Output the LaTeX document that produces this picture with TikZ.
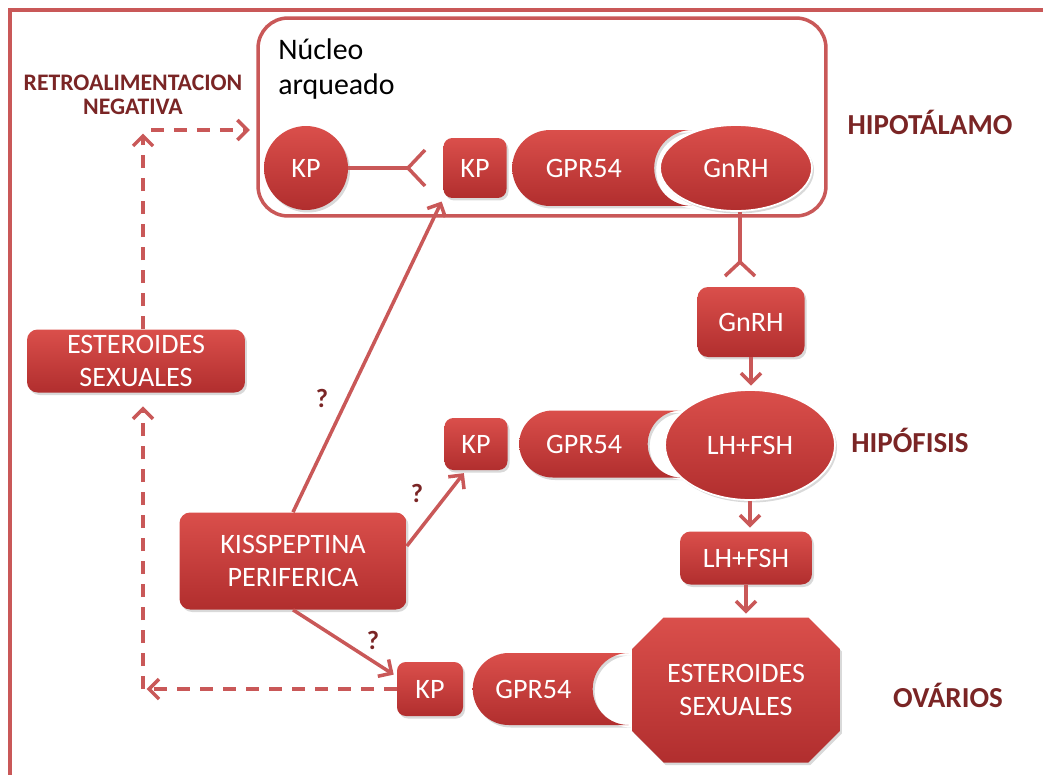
\documentclass[tikz,border=0pt]{standalone}
\usepackage{fontspec}
\setmainfont{Carlito}
\usepackage{xcolor}
\usetikzlibrary{arrows.meta,positioning,shapes.geometric,shapes.misc,shadows}
\definecolor{boxtop}{HTML}{DA4F4B}
\definecolor{boxbot}{HTML}{B12E2E}
\definecolor{linered}{HTML}{C95858}
\definecolor{labred}{HTML}{7A2525}

\begin{document}
\begin{tikzpicture}[
        x=0.02cm, y=-0.02cm,
        node distance=0.1cm,
        base/.style={top color=boxtop, bottom color=boxbot, text=white, inner sep=0pt, align=center,
            font=\fontsize{16}{19}\selectfont,
            drop shadow={opacity=0.3, shadow xshift=0.04cm, shadow yshift=-0.05cm}},
        kpbox/.style={base, rectangle, rounded corners=5pt, minimum width=1.26cm, minimum height=1.2cm},
        gpr/.style={base, rounded rectangle, rounded rectangle right arc=concave,
            rounded rectangle arc length=180},
        hormone/.style={base, ellipse, draw=white, line width=1pt},
        rbox/.style={base, rectangle, rounded corners=6pt},
        organ/.style={font=\fontsize{16.5}{19}\selectfont\bfseries, text=labred},
        qmark/.style={font=\fontsize{15}{18}\selectfont\bfseries, text=labred},
        conn/.style={draw=linered, line width=2pt},
        arr/.style={conn, -{Straight Barb[length=2mm,width=4mm]}, shorten >=2pt},
        darr/.style={arr, dash pattern=on 0.26cm off 0.2cm}
    ]
    \useasboundingbox (0,0) rectangle (1043,774);
    \clip (0,0) rectangle (1043,774);
    % marco
    \draw[draw=linered, line width=2pt] (10,790) -- (10,10) -- (1060,10);

    % hipotalamo
    \node[draw=linered, line width=2pt, rounded corners=0.6cm, minimum width=11.36cm, minimum height=3.96cm] (nucleo) at (542,117) {};
    \node[anchor=north west, align=left, inner sep=0pt, font=\fontsize{17}{20}\selectfont] (nucleolab) at (278,38) {Núcleo\\arqueado};
    \node[base, circle, minimum size=1.68cm] (kpc) at (306,168) {KP};
    \node[kpbox] (kp1) at (475,168) {KP};
    \node[gpr, minimum width=3.6cm, minimum height=1.52cm, right=0.1cm of kp1] (gpr1) {GPR54};
    \node[hormone, minimum width=3.04cm, minimum height=1.72cm] (gnrh1) at (736,168) {GnRH};
    \node[organ] (hipot) at (930,122) {HIPOTÁLAMO};

    % hipofisis
    \node[rbox, minimum width=2.14cm, minimum height=1.4cm] (gnrh2) at (751,322) {GnRH};
    \node[kpbox, minimum height=1.04cm] (kp2) at (476,444) {KP};
    \node[gpr, minimum width=3.24cm, minimum height=1.34cm, right=0.22cm of kp2] (gpr2) {GPR54};
    \node[hormone, minimum width=3.4cm, minimum height=2.2cm] (lhfsh1) at (750,445) {LH+FSH};
    \node[organ] (hipof) at (910,440) {HIPÓFISIS};
    \node[rbox, minimum width=2.64cm, minimum height=1.06cm] (lhfsh2) at (746,558) {LH+FSH};

    % ovarios
    \node[kpbox, minimum width=1.32cm, minimum height=1.08cm] (kp3) at (430,689) {KP};
    \node[gpr, minimum width=3.12cm, minimum height=1.44cm, right=0.18cm of kp3] (gpr3) {GPR54};
    \node[base, chamfered rectangle, chamfered rectangle xsep=0.8cm, minimum width=4.16cm, minimum height=2.9cm] (est2) at (736,690) {ESTEROIDES\\SEXUALES};
    \node[organ] (ovar) at (948,695) {OVÁRIOS};

    % periferia
    \node[rbox, minimum width=4.54cm, minimum height=1.94cm] (kiss) at (293,561) {KISSPEPTINA\\PERIFERICA};
    \node[rbox, minimum width=4.36cm, minimum height=1.26cm] (est1) at (136,361) {ESTEROIDES\\SEXUALES};
    \node[font=\fontsize{13.5}{14}\selectfont\bfseries, text=labred, align=center] (retro) at (133,95) {RETROALIMENTACION\\NEGATIVA};

    % receptores
    \coordinate (yfork) at (408,168);
    \draw[conn] (kpc) -- (yfork);
    \draw[conn] (yfork) -- ++(17,-18);
    \draw[conn] (yfork) -- ++(17,18);
    \coordinate (gfork) at (740,262);
    \draw[conn] (gnrh1.south -| gfork) -- (gfork);
    \draw[conn] (gfork) -- ++(-15,14);
    \draw[conn] (gfork) -- ++(15,14);

    % eje
    \draw[arr] (gnrh2.south) -- (gnrh2.south |- lhfsh1.north);
    \draw[arr] (lhfsh1.south) -- (lhfsh1.south |- lhfsh2.north);
    \draw[arr] (lhfsh2.south) -- (lhfsh2.south |- est2.north);

    % kisspeptina periferica
    \draw[arr] (kiss.north) -- (kp1.south west);
    \draw[arr] ([yshift=0.3cm]kiss.east) -- ([xshift=-0.2cm]kp2.south);
    \draw[arr] (kiss.south) -- ([yshift=0.25cm]kp3.west);
    \node[qmark] (q1) at (322,398) {?};
    \node[qmark] (q2) at (417,493) {?};
    \node[qmark] (q3) at (373,640) {?};

    % retroalimentacion
    \coordinate (fbtop) at (143,130);
    \coordinate (fbbot) at (143,689);
    \draw[darr] (fbtop |- est1.north) -- (fbtop);
    \draw[darr] ([xshift=0.16cm]fbtop) -- ([xshift=-0.06cm]nucleo.west |- fbtop);
    \draw[darr] (kp3.west) -- (fbbot);
    \draw[darr] (fbbot) -- ([yshift=-0.2cm]fbbot |- est1.south);
\end{tikzpicture}
\end{document}
